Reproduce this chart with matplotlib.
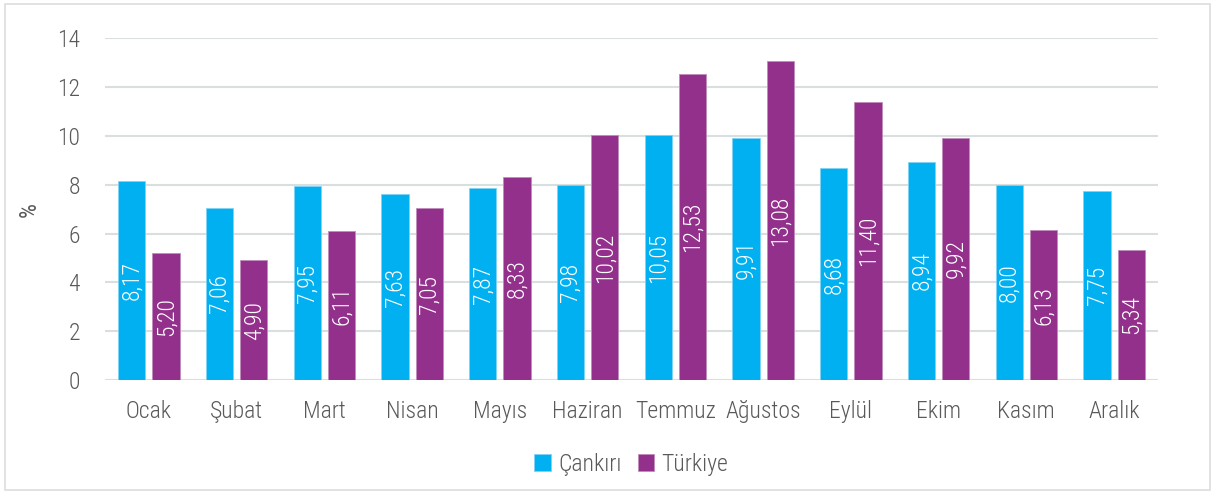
import matplotlib.pyplot as plt
from matplotlib import font_manager
from matplotlib.patches import Rectangle
import numpy as np

months = ['Ocak', 'Şubat', 'Mart', 'Nisan', 'Mayıs', 'Haziran', 'Temmuz',
          'Ağustos', 'Eylül', 'Ekim', 'Kasım', 'Aralık']
cankiri = [8.17, 7.06, 7.95, 7.63, 7.87, 7.98, 10.05, 9.91, 8.68, 8.94, 8.00, 7.75]
turkiye = [5.20, 4.90, 6.11, 7.05, 8.33, 10.02, 12.53, 13.08, 11.40, 9.92, 6.13, 5.34]

# narrow font if one is around
names = {f.name for f in font_manager.fontManager.ttflist}
if 'Liberation Sans Narrow' in names:
    plt.rcParams['font.family'] = ['Liberation Sans Narrow', 'DejaVu Sans']
elif 'Roboto Condensed' in names:
    plt.rcParams['font.family'] = ['Roboto Condensed', 'DejaVu Sans']
    plt.rcParams['font.weight'] = 'light'
else:
    plt.rcParams['font.family'] = ['DejaVu Sans']
gray = '#595959'
grid = '#D9DEDE'
fs = 17

fig = plt.figure(figsize=(12.15, 4.95), dpi=100)
fig.patches.append(Rectangle((0.004, 0.01), 0.992, 0.982, transform=fig.transFigure,
                             fill=False, edgecolor=grid, linewidth=1.2))
ax = fig.add_axes([0.0864, 0.232, 0.8666, 0.691])

x = np.arange(len(months))
w = 0.31
b1 = ax.bar(x - 0.195, cankiri, w, color='#00B0F0', edgecolor='#7FD4F5', linewidth=0.6,
            label='Çankırı', zorder=3)
b2 = ax.bar(x + 0.195, turkiye, w, color='#92308C', edgecolor='#C08CBC', linewidth=0.6,
            label='Türkiye', zorder=3)

for bars, vals in ((b1, cankiri), (b2, turkiye)):
    for r, v in zip(bars, vals):
        ax.text(r.get_x() + r.get_width() / 2, v / 2, f'{v:.2f}'.replace('.', ','),
                rotation=90, ha='center', va='center', color='white', fontsize=fs, zorder=4)

ax.set_xlim(-0.5, len(months) - 0.5)
ax.set_ylim(0, 14)
ax.set_yticks(range(0, 15, 2))
ax.set_xticks(x)
ax.set_xticklabels(months)
ax.tick_params(length=0, labelsize=fs, colors=gray)
ax.tick_params(axis='y', pad=18)
ax.tick_params(axis='x', pad=14)
ax.grid(axis='y', color=grid, linewidth=1.5, zorder=0)
for s in ax.spines.values():
    s.set_visible(False)
ax.set_ylabel('%', fontsize=fs, color=gray, labelpad=12)

ax.legend(loc='upper center', bbox_to_anchor=(0.5, -0.15), ncol=2, frameon=False,
          fontsize=fs, labelcolor=gray, handlelength=0.7, handleheight=0.7,
          handletextpad=0.3, columnspacing=0.7)

fig.savefig('out.png')
